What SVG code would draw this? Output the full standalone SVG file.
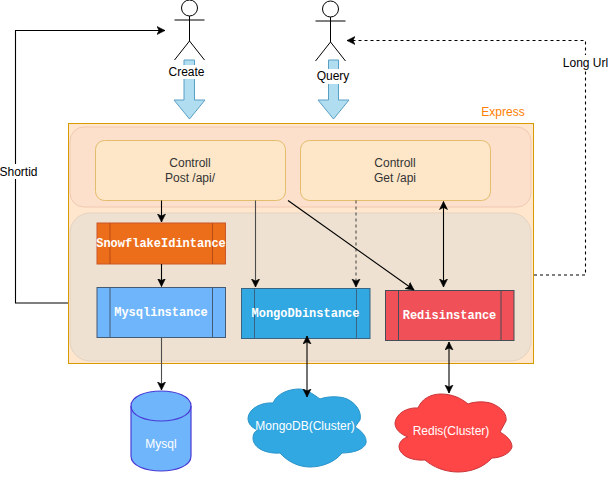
<svg xmlns="http://www.w3.org/2000/svg" width="609" height="477" viewBox="0 0 609 477">
<style>
text{font-family:"Liberation Sans",Arial,sans-serif;font-size:12px;text-anchor:middle}
.mono{font-family:"Liberation Mono","Courier New",monospace;font-size:12px;font-weight:bold;fill:#fff}
.w{fill:#fff}.d{fill:#333}
.line{fill:none;stroke:#000;stroke-width:1.1}
.grey{stroke:#4d4d4d}
.dash{stroke-dasharray:3 3}
.actor{fill:none;stroke:#000;stroke-width:1}
.blk{fill:#b1ddf0;stroke:#5a9fc4;stroke-width:1}
.lbl{fill:#fff}
</style>
<defs>
<marker id="a" markerUnits="userSpaceOnUse" markerWidth="12" markerHeight="10" refX="8" refY="4.5" orient="auto-start-reverse" viewBox="0 0 12 10"><path d="M0 0.5L8 4.5L0 8.5L2 4.5Z" fill="#000" stroke="#000" stroke-width="0.6"/></marker>
</defs>
<g id="express">
<rect x="68.5" y="123.5" width="465" height="240" fill="#ffe6cc" stroke="#d79b00"/>
<text x="503" y="116" style="fill:#ff8000">Express</text>
</g>
<g id="layer-controllers"><rect x="70" y="127" width="461" height="80" rx="14" fill="#fce0cb" stroke="#f0c9b2"/></g>
<g id="layer-instances"><rect x="70" y="213" width="461" height="148" rx="20" fill="#eee1d1" stroke="#e3d3c2"/></g>
<g id="control-post"><rect x="95.5" y="140.5" width="190" height="60" rx="9" fill="#fee7c9" stroke="#e4bd6c"/>
<text x="190" y="167" class="d">Controll</text><text x="190" y="182" class="d">Post /api/</text></g>
<g id="control-get"><rect x="300.5" y="140.5" width="190" height="60" rx="9" fill="#fee7c9" stroke="#e4bd6c"/>
<text x="395" y="167" class="d">Controll</text><text x="395" y="182" class="d">Get /api</text></g>
<g id="snowflake"><rect x="97" y="223" width="128.500" height="41" fill="#ec6e1b" stroke="#c9572a"/>
<path d="M110 223V264M212.500 223V264" stroke="#b84a14" fill="none"/>
<text x="161" y="247" class="mono">SnowflakeIdintance</text></g>
<g id="mysqlinstance"><rect x="97" y="287.500" width="128.500" height="50" fill="#6fb5fb" stroke="#455a73"/>
<path d="M110 287.500V337.500M212.500 287.500V337.500" stroke="#455a73" fill="none"/>
<text x="161" y="316" class="mono">Mysqlinstance</text></g>
<g id="mongodbinstance"><rect x="241.500" y="288.500" width="128.500" height="50" fill="#31a8e2" stroke="#3b6382"/>
<path d="M254.500 288.500V338.500M356.500 288.500V338.500" stroke="#3b6382" fill="none"/>
<text x="305.500" y="317" class="mono">MongoDbinstance</text></g>
<g id="redisinstance"><rect x="385.500" y="290.500" width="128.500" height="50" fill="#f05057" stroke="#474d57"/>
<path d="M398.500 290.500V340.500M501 290.500V340.500" stroke="#474d57" fill="none"/>
<text x="449.500" y="319" class="mono">Redisinstance</text></g>
<g id="mysql"><path d="M131 406C131 386 191 386 191 406V456C191 476 131 476 131 456Z" fill="#6fb5fb" stroke="#4a3ad6" stroke-width="1.2"/>
<path d="M131 406C131 426 191 426 191 406" fill="none" stroke="#4a3ad6" stroke-width="1.2"/>
<text x="161" y="448" class="w">Mysql</text></g>
<g id="mongodb-cluster"><path d="M273 403C277 393 290 389 299 389C306 389 313 394 320 399C328 396 340 396 347 399C356 403 362 412 360 420L355 427C362 431 367 437 366 443C364 450 352 453 342 453C335 462 322 467 310 467C298 467 287 461 280 453C268 454 253 449 253 438C253 434 255 431 258 430C252 428 248 424 248 418C249 408 262 402 273 403Z" fill="#31a8e2" stroke="#2a94c9"/>
<text x="305" y="430" class="w">MongoDB(Cluster)</text></g>
<g id="redis-cluster"><path d="M418 408C422 398 432 394 441 394C452 394 461 398 468 404C475 401 489 401 495 405C503 409 507 415 506 421L500 432C507 436 512 441 512 447C510 454 500 458 492 458C484 467 471 472 458 472C445 472 433 467 425 460C412 461 400 456 399 447C399 442 403 438 408 437C400 434 395 429 395 423C396 413 408 407 418 408Z" fill="#ff4646" stroke="#c9353a"/>
<text x="451" y="435" class="w">Redis(Cluster)</text></g>
<g id="actor-create"><circle cx="189.500" cy="8" r="8" class="actor"/><path d="M189.500 16V41M174.500 20H204.500M189.500 41L174.500 60M189.500 41L204.500 60" class="actor"/></g>
<g id="actor-query"><circle cx="330.500" cy="9" r="8" class="actor"/><path d="M330.500 17V42M315.500 21H345.500M330.500 42L315.500 61M330.500 42L345.500 61" class="actor"/></g>
<g id="arrow-create"><path d="M184 60H194.500V100H205L189.500 119L174 100H184Z" class="blk"/></g>
<g id="arrow-query"><path d="M328.500 60H338.500V100H349L333.500 119L318 100H328.500Z" class="blk"/></g>
<g id="labels">
<rect x="168" y="65" width="37" height="14" class="lbl"/><text x="186.500" y="76">Create</text>
<rect x="316" y="69" width="34" height="15" class="lbl"/><text x="333" y="80">Query</text>
</g>
<g id="connectors">
<path d="M68 303H15.500V30.500H165" class="line" marker-end="url(#a)"/>
<path d="M534 275H585.500V40.500H347" class="line dash" marker-end="url(#a)"/>
<path d="M161.500 200.500V222" class="line" marker-end="url(#a)"/>
<path d="M161.500 264V286.500" class="line" marker-end="url(#a)"/>
<path d="M161.500 337.500V390" class="line grey" marker-end="url(#a)"/>
<path d="M255.500 200.500V287" class="line grey" marker-end="url(#a)"/>
<path d="M356 200.500V287" class="line grey dash" marker-end="url(#a)"/>
<path d="M288 200.500L414 290" class="line" marker-end="url(#a)"/>
<path d="M443.500 201.500V287" class="line" marker-start="url(#a)" marker-end="url(#a)"/>
<path d="M307 336V397" class="line" marker-start="url(#a)" marker-end="url(#a)"/>
<path d="M449 342V393" class="line" marker-start="url(#a)" marker-end="url(#a)"/>
</g>
<g id="connector-labels">
<rect x="0" y="164" width="37" height="15" class="lbl"/><text x="18.500" y="176">Shortid</text>
<rect x="563" y="55" width="46" height="15" class="lbl"/><text x="585.500" y="67">Long Url</text>
</g>
</svg>
